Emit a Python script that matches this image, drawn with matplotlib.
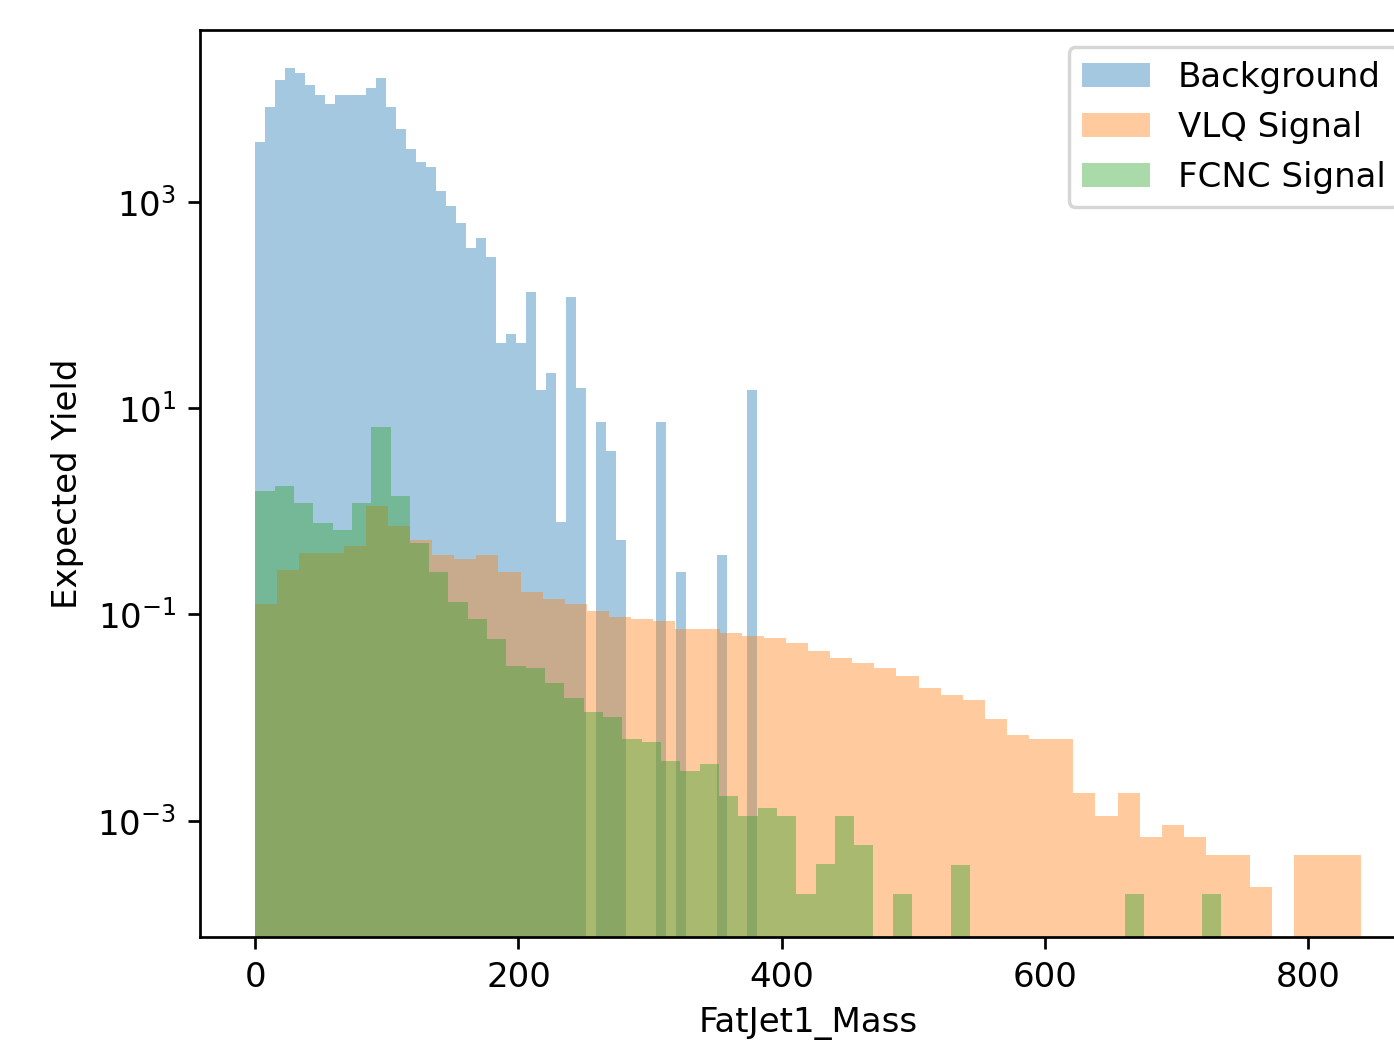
import numpy as np
import matplotlib
matplotlib.use("Agg")
import matplotlib.pyplot as plt
from matplotlib.ticker import FixedLocator, NullLocator, LogFormatterSciNotation

# bin ranges (50 bins each, starting at 0)
n_bins = 50
bkg_max = 381
vlq_max = 840
fcnc_max = 734

# expected yield per bin
bkg_yield = [3840, 8260, 15100, 19700, 17700, 13600, 10900, 8850, 10900, 10900,
             10900, 12800, 15800, 8260, 5060, 3260, 2460, 2200, 1280, 915,
             621, 361, 445, 291, 42.7, 52.5, 42.7, 133, 15.0, 21.8,
             0.78, 119, 15.6, 0, 7.31, 3.83, 0.528, 0, 0, 0,
             7.31, 0, 0.257, 0, 0, 0, 0.379, 0, 0, 14.9]

vlq_yield = [0.127, 0.270, 0.398, 0.398, 0.466, 1.13, 0.728, 0.525, 0.375, 0.343,
             0.375, 0.257, 0.167, 0.141, 0.126, 0.108, 0.0955, 0.0906, 0.0867, 0.0730,
             0.0725, 0.0659, 0.0621, 0.0589, 0.0527, 0.0444, 0.0377, 0.0342, 0.0302, 0.0256,
             0.0194, 0.0166, 0.0148, 0.00966, 0.00686, 0.00618, 0.00618, 0.00185, 0.00111, 0.00185,
             0.000692, 0.000903, 0.000692, 0.000466, 0.000466, 0.00023, 0, 0.000466, 0.000466, 0.000466]

fcnc_yield = [1.57, 1.77, 1.20, 0.778, 0.661, 1.20, 6.55, 1.41, 0.497, 0.257,
              0.133, 0.0906, 0.0584, 0.0319, 0.0305, 0.0219, 0.0156, 0.0113, 0.0101, 0.00618,
              0.00586, 0.00381, 0.00305, 0.00359, 0.00174, 0.00112, 0.00132, 0.00112, 0.000194, 0.000379,
              0.00111, 0.000582, 0, 0.000194, 0, 0, 0.000373, 0, 0, 0,
              0, 0, 0, 0, 0, 0.000194, 0, 0, 0, 0.000194]

y_ticks = [1e-3, 1e-1, 1e1, 1e3]

dpi = 245
fig = plt.figure(figsize=(1394 / dpi, 1043 / dpi), dpi=dpi)
# axes runs past the right edge, like the cropped original
ax = fig.add_axes([200 / 1394, 106 / 1043, 1216 / 1394, 907 / 1043])

samples = [
    ("Background", bkg_max, bkg_yield),
    ("VLQ Signal", vlq_max, vlq_yield),
    ("FCNC Signal", fcnc_max, fcnc_yield),
]
for label, xmax, counts in samples:
    edges = np.linspace(0, xmax, n_bins + 1)
    ax.hist(edges[:-1], bins=edges, weights=counts, alpha=0.4, label=label)

ax.set_yscale("log")
ax.set_xlim(-42, 882)
ax.set_ylim(7.47e-5, 4.64e4)
# every second decade, no minor ticks
ax.yaxis.set_major_locator(FixedLocator(y_ticks))
ax.yaxis.set_major_formatter(LogFormatterSciNotation())
ax.yaxis.set_minor_locator(NullLocator())
ax.set_xlabel("FatJet1_Mass")
ax.set_ylabel("Expected Yield")
ax.legend(loc="upper right")

fig.savefig("out.png", dpi=dpi)
